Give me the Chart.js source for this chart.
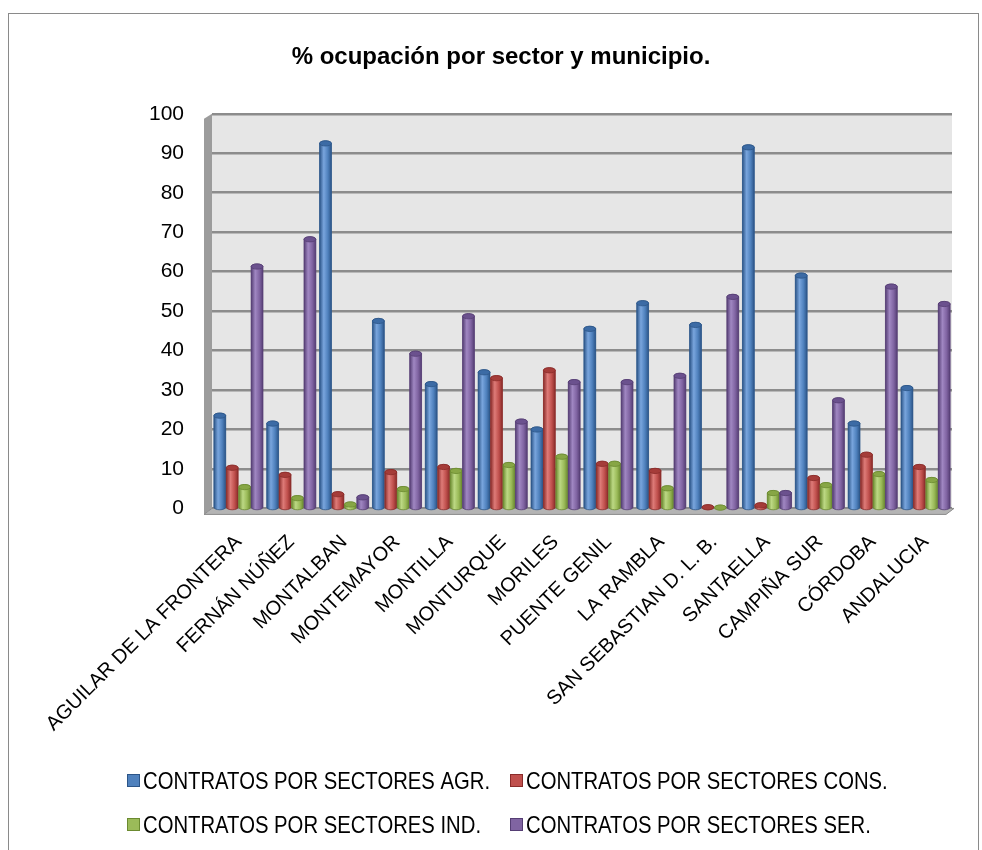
<!DOCTYPE html>
<html lang="es">
<head>
  <meta charset="UTF-8" />
  <title>% ocupación por sector y municipio.</title>
  <script src="https://cdn.jsdelivr.net/npm/chart.js"></script>
  <style>
    body { margin: 0; background: #fff; }
    canvas { display: block; }
  </style>
</head>
<body>
  <canvas id="ocupacion" width="982" height="850"></canvas>

  <script>
    // datos
    const municipios = ["AGUILAR DE LA FRONTERA", "FERNÁN NÚÑEZ", "MONTALBAN", "MONTEMAYOR", "MONTILLA",
      "MONTURQUE", "MORILES", "PUENTE GENIL", "LA RAMBLA", "SAN SEBASTIAN D. L. B.", "SANTAELLA",
      "CAMPIÑA SUR", "CÓRDOBA", "ANDALUCIA"];
    const agr  = [23.5, 21.5, 92.5, 47.5, 31.5, 34.5, 20.0, 45.5, 52.0, 46.5, 91.5, 59.0, 21.5, 30.5];
    const cons = [10.3, 8.5, 3.6, 9.2, 10.5, 33.0, 35.0, 11.3, 9.5, 0.3, 0.8, 7.7, 13.6, 10.5];
    const ind  = [5.4, 2.6, 1.0, 4.9, 9.5, 11.0, 13.1, 11.3, 5.1, 0.2, 3.9, 5.9, 8.7, 7.2];
    const ser  = [61.3, 68.2, 2.8, 39.2, 48.7, 22.0, 32.0, 32.0, 33.6, 53.6, 3.9, 27.4, 56.2, 51.8];
    const yTicks = [0, 10, 20, 30, 40, 50, 60, 70, 80, 90, 100];

    const seriesNames = ["CONTRATOS POR SECTORES AGR.", "CONTRATOS POR SECTORES CONS.",
      "CONTRATOS POR SECTORES IND.", "CONTRATOS POR SECTORES SER."];

    // base, oscuro, claro, tapa
    const palette = [
      ['#4F81BD', '#2C5588', '#79A5DD', '#3C6BA5'],
      ['#C0504D', '#8A2C2A', '#DE7B78', '#A53C39'],
      ['#9BBB59', '#6B8A30', '#BCD884', '#87A645'],
      ['#8064A2', '#553E74', '#A087C2', '#6B518E']
    ];

    const DEPTH = 8;

    // fondo, paredes y suelo en falso 3D
    const wallsPlugin = {
      id: 'walls',
      beforeDatasetsDraw(chart) {
        const { ctx, chartArea: a } = chart;
        ctx.save();
        // pared lateral
        ctx.fillStyle = '#9c9c9c';
        ctx.beginPath();
        ctx.moveTo(a.left - DEPTH, a.top + 5);
        ctx.lineTo(a.left, a.top);
        ctx.lineTo(a.left, a.bottom);
        ctx.lineTo(a.left - DEPTH, a.bottom + 6);
        ctx.closePath();
        ctx.fill();
        // suelo
        ctx.fillStyle = '#b4b4b4';
        ctx.beginPath();
        ctx.moveTo(a.left - DEPTH, a.bottom + 6);
        ctx.lineTo(a.left, a.bottom);
        ctx.lineTo(a.right + 2, a.bottom);
        ctx.lineTo(a.right - DEPTH + 2, a.bottom + 6);
        ctx.closePath();
        ctx.fill();
        ctx.strokeStyle = '#8c8c8c';
        ctx.lineWidth = 1;
        ctx.stroke();
        ctx.restore();
      },
      beforeDraw(chart) {
        const { ctx, chartArea: a } = chart;
        ctx.save();
        ctx.fillStyle = '#e6e6e6';
        ctx.fillRect(a.left, a.top, a.right - a.left, a.bottom - a.top);
        ctx.restore();
      },
      afterDraw(chart) {
        const ctx = chart.ctx;
        ctx.save();
        ctx.strokeStyle = '#8a8a8a';
        ctx.lineWidth = 1;
        ctx.strokeRect(8.5, 13.5, 970, 860);
        ctx.restore();
      }
    };

    // columnas cilindricas encima de las barras normales
    const cylinderPlugin = {
      id: 'cylinders',
      afterDatasetsDraw(chart) {
        const ctx = chart.ctx;
        chart.data.datasets.forEach((ds, i) => {
          const [base, dark, light, cap] = palette[i];
          chart.getDatasetMeta(i).data.forEach(bar => {
            const { x, y, base: b, width } = bar.getProps(['x', 'y', 'base', 'width'], true);
            const l = x - width / 2, r = x + width / 2, ry = width * 0.22;
            const g = ctx.createLinearGradient(l, 0, r, 0);
            g.addColorStop(0, dark);
            g.addColorStop(0.35, light);
            g.addColorStop(0.7, base);
            g.addColorStop(1, dark);
            ctx.save();
            ctx.fillStyle = g;
            ctx.beginPath();
            ctx.moveTo(l, y);
            ctx.lineTo(l, b);
            ctx.ellipse(x, b, width / 2, ry, 0, Math.PI, 0, true);
            ctx.lineTo(r, y);
            ctx.ellipse(x, y, width / 2, ry, 0, 0, Math.PI, true);
            ctx.closePath();
            ctx.fill();
            ctx.strokeStyle = dark;
            ctx.lineWidth = 0.8;
            ctx.stroke();
            ctx.beginPath();
            ctx.ellipse(x, y, width / 2, ry, 0, 0, Math.PI * 2);
            ctx.fillStyle = cap;
            ctx.fill();
            ctx.stroke();
            ctx.restore();
          });
        });
      }
    };

    // leyenda en dos columnas, texto estrechado
    const legendPlugin = {
      id: 'legend2',
      afterDraw(chart) {
        const ctx = chart.ctx;
        const cols = [127, 510], rows = [781, 825];
        ctx.save();
        ctx.font = "24px 'Liberation Sans', Arial, sans-serif";
        ctx.textBaseline = 'middle';
        chart.data.datasets.forEach((ds, i) => {
          const cx = cols[i % 2], cy = rows[Math.floor(i / 2)];
          ctx.fillStyle = palette[i][0];
          ctx.fillRect(cx, cy - 7, 13, 13);
          ctx.strokeStyle = palette[i][1];
          ctx.lineWidth = 1;
          ctx.strokeRect(cx + 0.5, cy - 6.5, 12, 12);
          ctx.save();
          ctx.translate(cx + 16, cy + 1);
          ctx.scale(0.845, 1);
          ctx.fillStyle = '#000';
          ctx.fillText(ds.label, 0, 0);
          ctx.restore();
        });
        ctx.restore();
      }
    };

    Chart.defaults.font.family = "'Liberation Sans', Arial, sans-serif";
    Chart.defaults.color = '#000';

    new Chart(document.getElementById('ocupacion'), {
      type: 'bar',
      data: {
        labels: municipios,
        datasets: [agr, cons, ind, ser].map((d, i) => ({
          label: seriesNames[i],
          data: d,
          backgroundColor: palette[i][0],
          categoryPercentage: 0.94,
          barPercentage: 0.95
        }))
      },
      options: {
        responsive: false,
        animation: false,
        layout: { padding: { left: 50, right: 30, top: 0, bottom: 100 } },
        plugins: {
          legend: { display: false },
          tooltip: { enabled: false },
          title: {
            display: true,
            text: '% ocupación por sector y municipio.',
            font: { size: 24, weight: 'bold' },
            padding: { top: 43, bottom: 42 }
          }
        },
        scales: {
          x: {
            grid: { display: false },
            border: { display: false },
            ticks: { minRotation: 45, maxRotation: 45, autoSkip: false, font: { size: 20 }, padding: 14 }
          },
          y: {
            min: 0,
            max: 100,
            afterBuildTicks: axis => { axis.ticks = yTicks.map(v => ({ value: v })); },
            afterFit: axis => { axis.width = 162; },
            grid: { color: '#8c8c8c', lineWidth: 2.5, drawTicks: false },
            border: { display: false },
            ticks: { font: { size: 21 }, padding: 28 }
          }
        }
      },
      plugins: [wallsPlugin, cylinderPlugin, legendPlugin]
    });
  </script>
</body>
</html>
